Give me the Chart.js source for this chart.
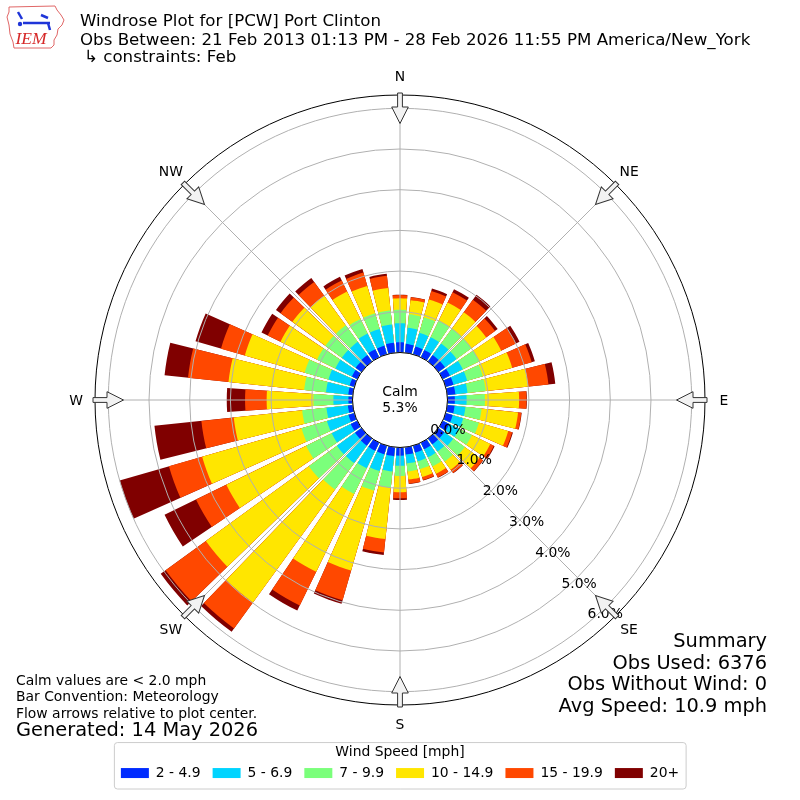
<!DOCTYPE html>
<html>
<head>
<meta charset="utf-8">
<title>Windrose Plot for [PCW] Port Clinton</title>
<script src="https://cdn.jsdelivr.net/npm/chart.js@4.4.1/dist/chart.umd.min.js"></script>
<style>
html,body{margin:0;padding:0;background:#ffffff;}
#wrap{position:relative;width:800px;height:800px;}
canvas{display:block;}
</style>
</head>
<body>
<div id="wrap"><canvas id="chart" width="800" height="800"></canvas></div>
<script>
// ---------------- data ----------------
const directions = [0,10,20,30,40,50,60,70,80,90,100,110,120,130,140,150,160,170,
                    180,190,200,210,220,230,240,250,260,270,280,290,300,310,320,330,340,350];
const speedBins = ['2 - 4.9', '5 - 6.9', '7 - 9.9', '10 - 14.9', '15 - 19.9', '20+'];
// percent of observations per direction for each speed bin
const speed2to5   = [.25,.22,.20,.20,.20,.20,.20,.20,.20,.18,.18,.18,.18,.18,.18,.18,.18,.18,.20,.22,.22,.22,.22,.20,.18,.15,.12,.10,.11,.12,.15,.18,.20,.22,.22,.25];
const speed5to7   = [.47,.40,.35,.35,.35,.35,.35,.35,.30,.29,.27,.27,.27,.27,.22,.22,.22,.22,.25,.38,.43,.48,.53,.55,.52,.55,.53,.37,.55,.54,.45,.42,.40,.43,.43,.45];
const speed7to10  = [.33,.33,.40,.45,.45,.45,.45,.40,.45,.45,.40,.40,.35,.35,.30,.25,.20,.20,.25,.40,.50,.70,.80,.85,.70,.65,.60,.49,.54,.61,.50,.50,.50,.40,.40,.35];
const speed10to15 = [.28,.35,.45,.50,.50,.45,.60,.75,1.05,.84,.90,.75,.50,.45,.25,.20,.20,.20,.40,1.27,2.04,2.13,3.43,3.13,2.18,2.54,1.69,1.15,1.87,1.53,1.00,1.00,.90,.75,.70,.55];
const speed15to20 = [.08,.07,.22,.28,.38,.27,.40,.50,.50,.18,.08,.10,.10,.10,.10,.10,.08,.10,.15,.33,.76,.92,.79,1.22,.83,.85,.80,.53,1.00,.61,.35,.36,.42,.30,.34,.30];
const speed20plus = [.01,.01,.06,.08,.15,.08,.10,.08,.17,.01,.01,.02,.02,.01,.01,.01,.01,.01,.04,.06,.09,.14,.10,.15,.86,1.26,1.16,.45,.58,.65,.17,.14,.12,.10,.09,.05];
const radialTicks = [0, 1, 2, 3, 4, 5, 6];
const compassLabels = ['N', 'NE', 'E', 'SE', 'S', 'SW', 'W', 'NW'];
const calmPercent = 5.3;
const titleLines = [
  'Windrose Plot for [PCW] Port Clinton',
  'Obs Between: 21 Feb 2013 01:13 PM - 28 Feb 2026 11:55 PM America/New_York',
  '\u21b3 constraints: Feb'
];
const noteLines = ['Calm values are < 2.0 mph', 'Bar Convention: Meteorology', 'Flow arrows relative to plot center.'];
const generatedText = 'Generated: 14 May 2026';
const summaryLines = ['Summary', 'Obs Used: 6376', 'Obs Without Wind: 0', 'Avg Speed: 10.9 mph'];
const legendTitle = 'Wind Speed [mph]';

// ---------------- styles ----------------
const binColors = ['#002bff', '#00d4ff', '#7bff7b', '#ffe600', '#ff4800', '#800000'];
const FONT = '"DejaVu Sans", "Liberation Sans", sans-serif';
const R_MIN = -1.167;   // radial origin offset (calm circle)
const R_MAX = 6.327;
const BAR_FRACTION = 0.8;

Chart.defaults.font.family = FONT;
Chart.defaults.color = '#000000';

// ---------------- build the library's tables ----------------
const seriesList = [speed2to5, speed5to7, speed7to10, speed10to15, speed15to20, speed20plus];
const cumulative = seriesList.map((_, j) => directions.map((d, k) => {
  let s = 0;
  for (let m = 0; m <= j; m++) s += seriesList[m][k];
  return s;
}));
const sector = 360 / directions.length;
const sliceAngles = (() => {
  const bar = sector * BAR_FRACTION, gap = sector - bar;
  const a = [bar / 2, gap];
  for (let k = 1; k < directions.length; k++) a.push(bar, gap);
  a.push(bar / 2);
  return a;
})();
function sliceData(cum) {
  const d = [cum[0], R_MIN];
  for (let k = 1; k < directions.length; k++) d.push(cum[k], R_MIN);
  d.push(cum[0]);
  return d;
}
const datasets = speedBins.map((label, j) => ({
  label: label,
  data: sliceData(cumulative[j]),
  backgroundColor: binColors[j],
  borderWidth: 0,
  angle: (c) => sliceAngles[c.dataIndex]
}));

// ---------------- decorations ----------------
function drawArrow(ctx, s, i, R) {
  const ang = s.getIndexAngle(i) - Math.PI / 2;
  ctx.save();
  ctx.translate(s.xCenter, s.yCenter);
  ctx.rotate(ang);
  ctx.beginPath();
  ctx.moveTo(R + 2, -2.4);
  ctx.lineTo(R - 12, -2.4);
  ctx.lineTo(R - 12, -8.3);
  ctx.lineTo(R - 28.5, 0);
  ctx.lineTo(R - 12, 8.3);
  ctx.lineTo(R - 12, 2.4);
  ctx.lineTo(R + 2, 2.4);
  ctx.closePath();
  ctx.fillStyle = '#f2f2f2';
  ctx.fill();
  ctx.lineWidth = 1;
  ctx.strokeStyle = '#333333';
  ctx.stroke();
  ctx.restore();
}
function drawLogo(ctx) {
  ctx.save();
  ctx.strokeStyle = '#e06666';
  ctx.lineWidth = 1;
  ctx.beginPath();
  ctx.moveTo(9, 7); ctx.lineTo(55, 6); ctx.lineTo(57, 10); ctx.lineTo(61, 15); ctx.lineTo(64, 20);
  ctx.lineTo(62, 25); ctx.lineTo(58, 29); ctx.lineTo(57, 35); ctx.lineTo(54, 40); ctx.lineTo(54, 45);
  ctx.lineTo(51, 48); ctx.lineTo(14, 48); ctx.lineTo(13, 42); ctx.lineTo(10, 34); ctx.lineTo(9, 25);
  ctx.lineTo(7, 17); ctx.lineTo(9, 12); ctx.closePath();
  ctx.stroke();
  ctx.strokeStyle = '#1f35d8';
  ctx.fillStyle = '#1f35d8';
  ctx.lineWidth = 2.5;
  ctx.beginPath(); ctx.moveTo(23, 23); ctx.lineTo(50, 23); ctx.stroke();
  ctx.beginPath(); ctx.moveTo(18, 12); ctx.lineTo(22, 19); ctx.stroke();
  ctx.beginPath(); ctx.moveTo(41, 15); ctx.lineTo(48, 18); ctx.stroke();
  ctx.beginPath(); ctx.moveTo(48, 23); ctx.lineTo(50, 30); ctx.stroke();
  ctx.beginPath(); ctx.arc(20, 24, 2.2, 0, Math.PI * 2); ctx.fill();
  ctx.fillStyle = '#d62828';
  ctx.font = 'italic 17.5px "Liberation Serif", serif';
  ctx.textAlign = 'left';
  ctx.textBaseline = 'alphabetic';
  ctx.fillText('IEM', 15.5, 43.5);
  ctx.restore();
}
const decor = {
  id: 'decor',
  afterDraw(chart) {
    const ctx = chart.ctx;
    const s = chart.scales.r;
    const cx = s.xCenter, cy = s.yCenter;
    const r0 = s.getDistanceFromCenterForValue(0);
    const R = s.drawingArea;
    ctx.save();
    // calm circle
    ctx.beginPath();
    ctx.arc(cx, cy, r0, 0, Math.PI * 2);
    ctx.fillStyle = '#ffffff';
    ctx.fill();
    ctx.lineWidth = 1;
    ctx.strokeStyle = '#000000';
    ctx.stroke();
    ctx.fillStyle = '#000000';
    ctx.font = '13.9px ' + FONT;
    ctx.textAlign = 'center';
    ctx.textBaseline = 'alphabetic';
    ctx.fillText('Calm', cx, cy - 4);
    ctx.fillText(calmPercent.toFixed(1) + '%', cx, cy + 12);
    // radial tick labels
    ctx.textBaseline = 'middle';
    s.ticks.forEach((t) => {
      if (!radialTicks.includes(t.value)) return;
      const d = s.getDistanceFromCenterForValue(t.value) - r0;
      ctx.fillText(t.value.toFixed(1) + '%', cx + 48 + 0.644 * d, cy + 30 + 0.757 * d);
    });
    // compass labels and flow arrows
    compassLabels.forEach((lab, i) => {
      const p = s.getPointPosition(i, R + 19);
      ctx.fillStyle = '#000000';
      ctx.fillText(lab, p.x, p.y + 1);
      drawArrow(ctx, s, i, R);
    });
    // legend frame
    const lg = chart.legend;
    if (lg && lg.legendHitBoxes && lg.legendHitBoxes.length) {
      const hb = lg.legendHitBoxes;
      const x0 = hb[0].left - 6.5, x1 = hb[hb.length - 1].left + hb[hb.length - 1].width + 7;
      const y0 = lg.top + 1.5, y1 = lg.bottom - 1;
      ctx.beginPath();
      if (ctx.roundRect) ctx.roundRect(x0, y0, x1 - x0, y1 - y0, 3); else ctx.rect(x0, y0, x1 - x0, y1 - y0);
      ctx.lineWidth = 1;
      ctx.strokeStyle = '#cccccc';
      ctx.stroke();
    }
    // titles
    ctx.textBaseline = 'alphabetic';
    ctx.textAlign = 'left';
    ctx.fillStyle = '#000000';
    ctx.font = '16.67px ' + FONT;
    ctx.fillText(titleLines[0], 80, 25.5);
    ctx.fillText(titleLines[1], 80, 44.5);
    ctx.fillText(titleLines[2], 84, 61.5);
    // notes
    ctx.font = '13.9px ' + FONT;
    ctx.fillText(noteLines[0], 16, 684.5);
    ctx.fillText(noteLines[1], 16, 701);
    ctx.fillText(noteLines[2], 16, 717.5);
    ctx.font = '19.4px ' + FONT;
    ctx.fillText(generatedText, 16, 736);
    // summary
    ctx.textAlign = 'right';
    ctx.fillText(summaryLines[0], 767, 647);
    ctx.fillText(summaryLines[1], 767, 668.5);
    ctx.fillText(summaryLines[2], 767, 690);
    ctx.fillText(summaryLines[3], 767, 711.5);
    ctx.restore();
    drawLogo(ctx);
  }
};

new Chart(document.getElementById('chart'), {
  type: 'polarArea',
  data: { labels: compassLabels, datasets: datasets },
  options: {
    responsive: false,
    devicePixelRatio: 1,
    animation: false,
    events: [],
    layout: { padding: { left: 95, right: 95, top: 60, bottom: 10 } },
    scales: {
      r: {
        min: R_MIN,
        max: R_MAX,
        startAngle: 0,
        afterBuildTicks: (scale) => {
          scale.ticks = [R_MIN].concat(radialTicks, [R_MAX]).map((v) => ({ value: v }));
        },
        ticks: { display: false },
        pointLabels: { display: false },
        grid: {
          z: 1,
          circular: true,
          lineWidth: 1,
          color: (c) => {
            const v = c.tick ? c.tick.value : 0;
            if (v === R_MAX) return '#000000';
            if (v < 0) return 'rgba(0,0,0,0)';
            return '#b0b0b0';
          }
        },
        angleLines: { display: true, color: '#b0b0b0', lineWidth: 1 }
      }
    },
    plugins: {
      tooltip: { enabled: false },
      legend: {
        display: true,
        position: 'bottom',
        align: 'center',
        title: { display: true, text: legendTitle, color: '#000000', font: { size: 13.9, lineHeight: 0.65 }, padding: { top: 4, bottom: 0 } },
        labels: {
          boxWidth: 28,
          boxHeight: 10,
          padding: 12,
          color: '#000000',
          font: { size: 13.9 },
          generateLabels: () => speedBins.map((t, i) => ({
            text: t, fillStyle: binColors[i], strokeStyle: binColors[i], lineWidth: 0, hidden: false, datasetIndex: i
          }))
        }
      }
    }
  },
  plugins: [decor]
});
</script>
</body>
</html>
